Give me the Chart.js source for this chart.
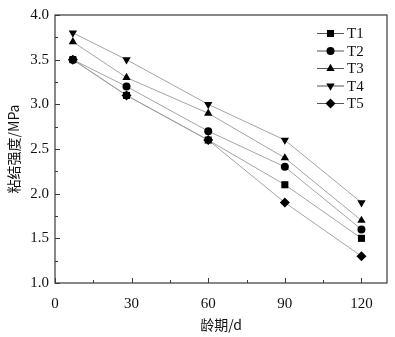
<!DOCTYPE html>
<html><head><meta charset="utf-8">
<script src="https://cdn.jsdelivr.net/npm/chart.js@4/dist/chart.umd.min.js"></script>
<style>html,body{margin:0;padding:0;background:#fff}#wrap{width:395px;height:337px;position:relative}</style>
</head><body><div id="wrap"><canvas id="c" width="395" height="337"></canvas></div>
<script>
const ages = [7, 28, 60, 90, 120];
const seriesNames = ['T1', 'T2', 'T3', 'T4', 'T5'];
const T1 = [3.5, 3.1, 2.6, 2.1, 1.5];
const T2 = [3.5, 3.2, 2.7, 2.3, 1.6];
const T3 = [3.7, 3.3, 2.9, 2.4, 1.7];
const T4 = [3.8, 3.5, 3.0, 2.6, 1.9];
const T5 = [3.5, 3.1, 2.6, 1.9, 1.3];
const xTickValues = [0, 30, 60, 90, 120];
const yTickValues = [1.0, 1.5, 2.0, 2.5, 3.0, 3.5, 4.0];
const xTitle = '龄期/d';
const yTitle = '粘结强度/MPa';

const seriesValues = [T1, T2, T3, T4, T5];
const markers = [
  {style: 'rect', r: 5, rot: 0},
  {style: 'circle', r: 4, rot: 0},
  {style: 'triangle', r: 4.8, rot: 0},
  {style: 'triangle', r: 4.8, rot: 180},
  {style: 'rectRot', r: 5, rot: 0}
];
const serif = '"Liberation Serif", "Times New Roman", serif';
const cjk = '"Noto Sans CJK SC", sans-serif';

const datasets = seriesNames.map((n, i) => ({
  label: n,
  data: ages.map((a, j) => ({x: a, y: seriesValues[i][j]})),
  borderColor: '#9a9a9a',
  borderWidth: 0.9,
  backgroundColor: '#000',
  pointBackgroundColor: '#000',
  pointBorderColor: '#000',
  pointBorderWidth: 0,
  pointStyle: markers[i].style,
  pointRadius: markers[i].r,
  pointRotation: markers[i].rot,
  showLine: true,
  fill: false,
  tension: 0
}));

function drawMarker(ctx, m, x, y) {
  if (Chart.helpers && Chart.helpers.drawPoint) {
    ctx.fillStyle = '#000'; ctx.strokeStyle = '#000'; ctx.lineWidth = 0.01;
    Chart.helpers.drawPoint(ctx, {pointStyle: m.style, radius: m.r, rotation: m.rot, borderWidth: 0}, x, y);
    return;
  }
  ctx.fillStyle = '#000';
  ctx.beginPath();
  const r = m.r;
  if (m.style === 'circle') ctx.arc(x, y, r, 0, Math.PI * 2);
  else if (m.style === 'rect') { const s = r / Math.SQRT2; ctx.rect(x - s, y - s, 2 * s, 2 * s); }
  else if (m.style === 'rectRot') { ctx.moveTo(x, y - r); ctx.lineTo(x + r, y); ctx.lineTo(x, y + r); ctx.lineTo(x - r, y); }
  else if (m.style === 'triangle') {
    const d = m.rot ? -1 : 1;
    ctx.moveTo(x, y - d * r); ctx.lineTo(x + r * 0.866, y + d * r * 0.5); ctx.lineTo(x - r * 0.866, y + d * r * 0.5);
  }
  ctx.closePath(); ctx.fill();
}

const framePlugin = {
  id: 'frame',
  afterDraw(chart) {
    const ctx = chart.ctx, a = chart.chartArea;
    const xs = chart.scales.x, ys = chart.scales.y;
    ctx.save();
    ctx.strokeStyle = '#3a3a3a';
    ctx.lineWidth = 1.2;
    ctx.strokeRect(a.left, a.top, a.right - a.left, a.bottom - a.top);
    ctx.lineWidth = 1;
    ctx.beginPath();
    for (let v = 0; v <= 120; v += 15) {
      const px = Math.round(xs.getPixelForValue(v)) + 0.5;
      const len = (v % 30 === 0) ? 5 : 3;
      ctx.moveTo(px, a.bottom); ctx.lineTo(px, a.bottom - len);
    }
    for (let v = 1.0; v <= 4.0001; v += 0.25) {
      const py = Math.round(ys.getPixelForValue(v)) + 0.5;
      const len = (Math.abs(v * 2 - Math.round(v * 2)) < 1e-6) ? 5 : 3;
      ctx.moveTo(a.left, py); ctx.lineTo(a.left + len, py);
    }
    ctx.stroke();
    // legend
    const lx0 = 317, lx1 = 344, tx = 347, y0 = 33.5, dy = 17.5;
    ctx.font = '15px ' + serif;
    ctx.textBaseline = 'middle';
    ctx.textAlign = 'left';
    seriesNames.forEach((n, i) => {
      const y = y0 + i * dy;
      ctx.strokeStyle = '#555';
      ctx.lineWidth = 1;
      ctx.beginPath(); ctx.moveTo(lx0, y); ctx.lineTo(lx1, y); ctx.stroke();
      drawMarker(ctx, markers[i], (lx0 + lx1) / 2, y);
      ctx.fillStyle = '#111';
      ctx.fillText(n, tx, y + 1);
    });
    ctx.restore();
  }
};

new Chart(document.getElementById('c'), {
  type: 'scatter',
  data: {datasets},
  plugins: [framePlugin],
  options: {
    responsive: false,
    animation: false,
    devicePixelRatio: 1,
    layout: {padding: {left: 0, right: 8, top: 15, bottom: 0}},
    plugins: {legend: {display: false}, tooltip: {enabled: false}},
    scales: {
      x: {
        type: 'linear', min: 0, max: 130,
        afterBuildTicks: s => { s.ticks = xTickValues.map(v => ({value: v})); },
        afterFit: s => { s.height = 54; },
        grid: {display: false, drawTicks: false},
        border: {display: false},
        ticks: {color: '#111', font: {family: serif, size: 15}, padding: 12, maxRotation: 0, callback: v => String(v)},
        title: {display: true, text: xTitle, color: '#111', font: {family: cjk, size: 14}, padding: {top: 4, bottom: 4}}
      },
      y: {
        type: 'linear', min: 1, max: 4,
        afterBuildTicks: s => { s.ticks = yTickValues.map(v => ({value: v})); },
        afterFit: s => { s.width = 55; },
        grid: {display: false, drawTicks: false},
        border: {display: false},
        ticks: {color: '#111', font: {family: serif, size: 15}, padding: 6, callback: v => Number(v).toFixed(1)},
        title: {display: true, text: yTitle, color: '#111', font: {family: cjk, size: 14}, padding: {top: 5, bottom: 2}}
      }
    }
  }
});
</script></body></html>
